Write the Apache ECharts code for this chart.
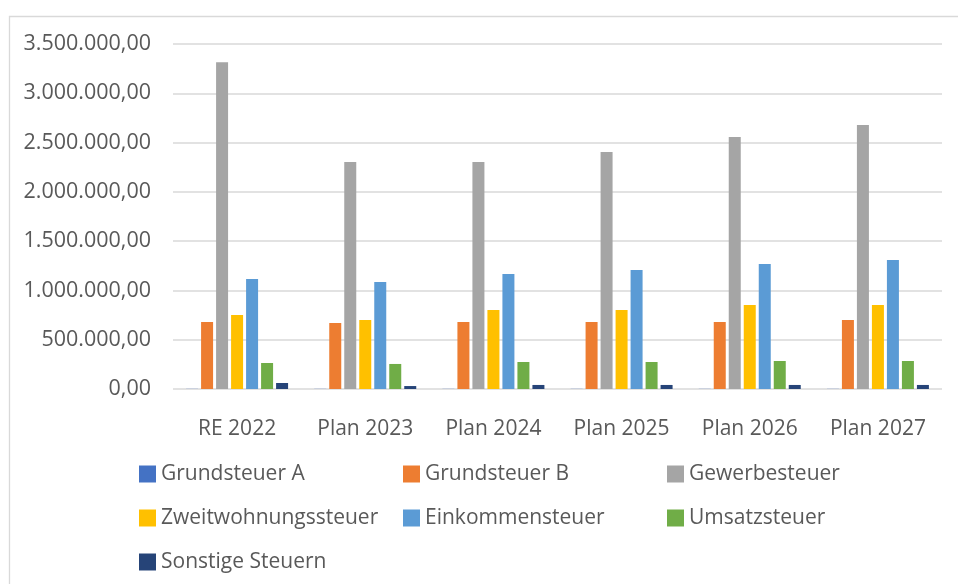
<!DOCTYPE html>
<html>
<head>
<meta charset="utf-8">
<script src="https://cdn.jsdelivr.net/npm/echarts@6/dist/echarts.min.js"></script>
<style>html,body{margin:0;padding:0;background:#fff}#c{width:958px;height:584px}</style>
</head>
<body>
<div id="c"></div>
<script>
const categories = ['RE 2022', 'Plan 2023', 'Plan 2024', 'Plan 2025', 'Plan 2026', 'Plan 2027'];
const seriesNames = ['Grundsteuer A', 'Grundsteuer B', 'Gewerbesteuer', 'Zweitwohnungssteuer', 'Einkommensteuer', 'Umsatzsteuer', 'Sonstige Steuern'];
const grundsteuerA = [1500, 1500, 1500, 1500, 1500, 1500];
const grundsteuerB = [679000, 669000, 679000, 679000, 679000, 700000];
const gewerbesteuer = [3316000, 2302000, 2302000, 2404000, 2556000, 2677000];
const zweitwohnungssteuer = [750000, 700000, 801000, 801000, 852000, 852000];
const einkommensteuer = [1116000, 1085000, 1166000, 1207000, 1268000, 1308000];
const umsatzsteuer = [264000, 254000, 274000, 274000, 284000, 284000];
const sonstigeSteuern = [61000, 30000, 41000, 41000, 41000, 41000];
const yMin = 0, yMax = 3500000, yStep = 500000;

const values = [grundsteuerA, grundsteuerB, gewerbesteuer, zweitwohnungssteuer, einkommensteuer, umsatzsteuer, sonstigeSteuern];
const colors = ['#4472C4', '#ED7D31', '#A5A5A5', '#FFC000', '#5B9BD5', '#70AD47', '#264478'];
const font = 'Open Sans';
const textColor = '#595959';

function deFormat(v) {
  const parts = Math.round(v).toString().replace(/\B(?=(\d{3})+(?!\d))/g, '.');
  return parts + ',00';
}

const chart = echarts.init(document.getElementById('c'), null, {renderer: 'canvas'});
chart.setOption({
  animation: false,
  color: colors,
  graphic: [{
    type: 'rect', silent: true,
    shape: {x: 9.5, y: 16.5, width: 1200, height: 1200},
    style: {fill: 'none', stroke: '#d9d9d9', lineWidth: 1.3}
  }],
  grid: {left: 173, right: 16, top: 44, bottom: 195, containLabel: false},
  xAxis: {
    type: 'category',
    data: categories,
    axisLine: {show: false},
    axisTick: {show: false},
    axisLabel: {color: textColor, fontFamily: font, fontSize: 21, margin: 30}
  },
  yAxis: {
    type: 'value',
    min: yMin, max: yMax, interval: yStep,
    axisLine: {show: false},
    axisTick: {show: false},
    splitLine: {lineStyle: {color: '#d9d9d9', width: 1.5}},
    axisLabel: {color: textColor, fontFamily: font, fontSize: 21.5, margin: 22, formatter: deFormat}
  },
  legend: {
    left: 139, top: 457, width: 820, padding: 0,
    orient: 'horizontal',
    icon: 'rect', itemWidth: 17, itemHeight: 17, itemGap: 10,
    data: seriesNames,
    textStyle: {color: textColor, fontFamily: font, fontSize: 21, width: 232, lineHeight: 34, overflow: 'none'}
  },
  series: seriesNames.map((name, i) => ({
    name: name,
    type: 'bar',
    data: values[i],
    barWidth: 12,
    barGap: '25%'
  }))
});
</script>
</body>
</html>
